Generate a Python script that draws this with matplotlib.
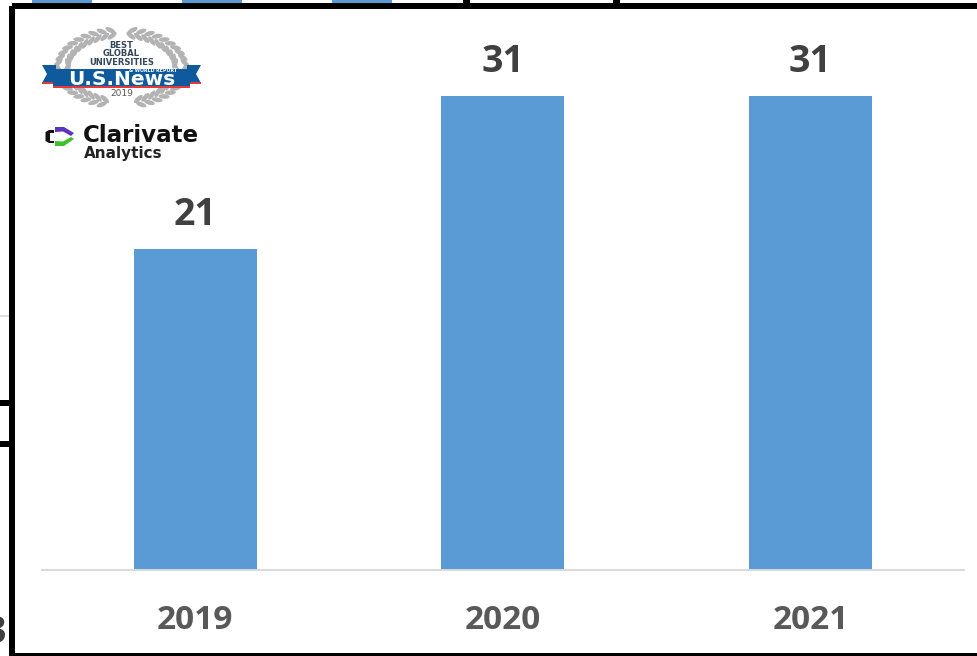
import matplotlib
matplotlib.use("Agg")
import matplotlib.pyplot as plt
import numpy as np
from matplotlib.patches import Ellipse, Polygon, Rectangle

years = ["2019", "2020", "2021"]
values = [21, 31, 31]

W, H = 977, 656
plt.rcParams['font.family'] = ['Open Sans', 'DejaVu Sans']

fig = plt.figure(figsize=(W/100, H/100), dpi=100)

# overlay in pixel coords for the bits around the chart
bg = fig.add_axes([0, 0, 1, 1], zorder=0)
bg.set_xlim(0, W)
bg.set_ylim(H, 0)
bg.axis("off")

# leftovers of the slide behind the chart
for x0 in [32, 182, 332]:
    bg.add_patch(Rectangle((x0, 0), 60, 3, color="#5b9bd5", lw=0))
for x0 in [463, 613]:
    bg.add_patch(Rectangle((x0, 0), 6.5, 3, color="black", lw=0))
bg.add_patch(Rectangle((0, 315), 9, 1.5, color="#dddddd", lw=0))
bg.add_patch(Rectangle((0, 400), 9, 6, color="black", lw=0))
bg.add_patch(Rectangle((0, 441), 9, 6, color="black", lw=0))
bg.text(6, 633, "3", fontsize=27, fontweight="bold", color="#404040",
        ha="right", va="center")

# chart frame, right side runs off the picture
bg.add_patch(Rectangle((9, 3), 1000, 700, fc="white", ec="none", zorder=2))
bg.add_patch(Rectangle((12, 6), 1000, 650, fc="none", ec="black", lw=4.3,
                       zorder=3))

# bar chart
ax = fig.add_axes([41.6/W, 1-569.5/H, 922.6/W, 549.5/H], zorder=1)
ax.patch.set_alpha(0)
x = np.arange(len(years))
bars = ax.bar(x, values, width=0.4, color="#5b9bd5")
ax.set_xlim(-0.5, 2.5)
ax.set_ylim(0, 36)
ax.set_xticks(x)
ax.set_xticklabels(years, fontsize=24, fontweight="bold", color="#595959")
ax.tick_params(axis="x", length=0, pad=24.8)
ax.yaxis.set_visible(False)
for s in ["top", "left", "right"]:
    ax.spines[s].set_visible(False)
ax.spines["bottom"].set_color("#d9d9d9")
ax.spines["bottom"].set_linewidth(1.4)
for b, v in zip(bars, values):
    ax.annotate(str(v), (b.get_x()+b.get_width()/2, v), xytext=(0, 24.8),
                textcoords="offset points", ha="center", va="center",
                fontsize=27, fontweight="bold", color="#404040")

# logos
lg = fig.add_axes([0, 0, 1, 1], zorder=2)
lg.set_xlim(0, W)
lg.set_ylim(H, 0)
lg.axis("off")

# US News laurel wreath, squashed ellipse open at top and bottom
cx, cy = 121.5, 68
rx, ry = 59, 35.5
for side in [-1, 1]:
    for t in list(np.arange(180, 268, 8)) + list(np.arange(180, 104, -8)):
        a = np.radians(t)
        tang = np.degrees(np.arctan2(ry*np.cos(a), -rx*np.sin(a)*side))
        for k, tilt in [(1.08, 32), (0.92, -32)]:
            # tilt the leaves outward from the stem
            sgn = 1 if t > 180 else -1
            px = cx + side*k*rx*np.cos(a)
            py = cy + k*ry*np.sin(a)
            lg.add_patch(Ellipse((px, py), 11, 4.6,
                                 angle=tang + side*sgn*tilt,
                                 color="#b3b3b3", lw=0))

navy = "#33475b"
for yy, word in zip([45.5, 54, 62.5], ["BEST", "GLOBAL", "UNIVERSITIES"]):
    lg.text(cx, yy, word, fontsize=6, fontweight="bold", color=navy,
            ha="center", va="center", family="DejaVu Sans")
lg.add_patch(Polygon([(42, 65), (56, 65), (56, 83), (42, 83), (47, 74)],
                     color="#0f5a9c", lw=0))
lg.add_patch(Polygon([(201, 65), (187, 65), (187, 83), (201, 83), (196, 74)],
                     color="#0f5a9c", lw=0))
lg.add_patch(Rectangle((42, 81.5), 159, 2, color="#e03a3e", lw=0))
lg.add_patch(Rectangle((53, 69), 137, 17, color="#0f5a9c", lw=0))
lg.add_patch(Rectangle((53, 86), 137, 2, color="#e03a3e", lw=0))
lg.text(121.5, 79.5, "U.S.News", fontsize=14.5, fontweight="bold", color="white",
        ha="center", va="center", family="DejaVu Sans")
lg.text(153, 70.3, "& WORLD REPORT", fontsize=3.4, fontweight="bold",
        color="white", ha="center", va="center", family="DejaVu Sans")
lg.text(cx, 93, "2019", fontsize=6.5, color="#555555", ha="center", va="center",
        family="DejaVu Sans")

# Clarivate mark
lg.add_patch(Polygon([(45.5, 132), (49, 130), (54, 130), (54, 143), (49, 143),
                      (45.5, 141)], color="#111111", lw=0))
lg.add_patch(Rectangle((50, 132.5), 4, 8, color="white", lw=0))
lg.add_patch(Polygon([(55, 127), (64, 127), (74, 133), (71, 136), (63, 131.5),
                      (55, 132)], color="#5e33bf", lw=0))
lg.add_patch(Polygon([(55, 146), (64, 146), (74, 139), (71, 137), (63, 141.5),
                      (55, 141)], color="#3fc02e", lw=0))
lg.text(83, 136, "Clarivate", fontsize=16.6, fontweight="bold", color="#111111",
        va="center", ha="left", family="DejaVu Sans")
lg.text(84, 153.5, "Analytics", fontsize=11, fontweight="bold", color="#222222",
        va="center", ha="left", family="DejaVu Sans")

fig.savefig("out.png", dpi=100)
